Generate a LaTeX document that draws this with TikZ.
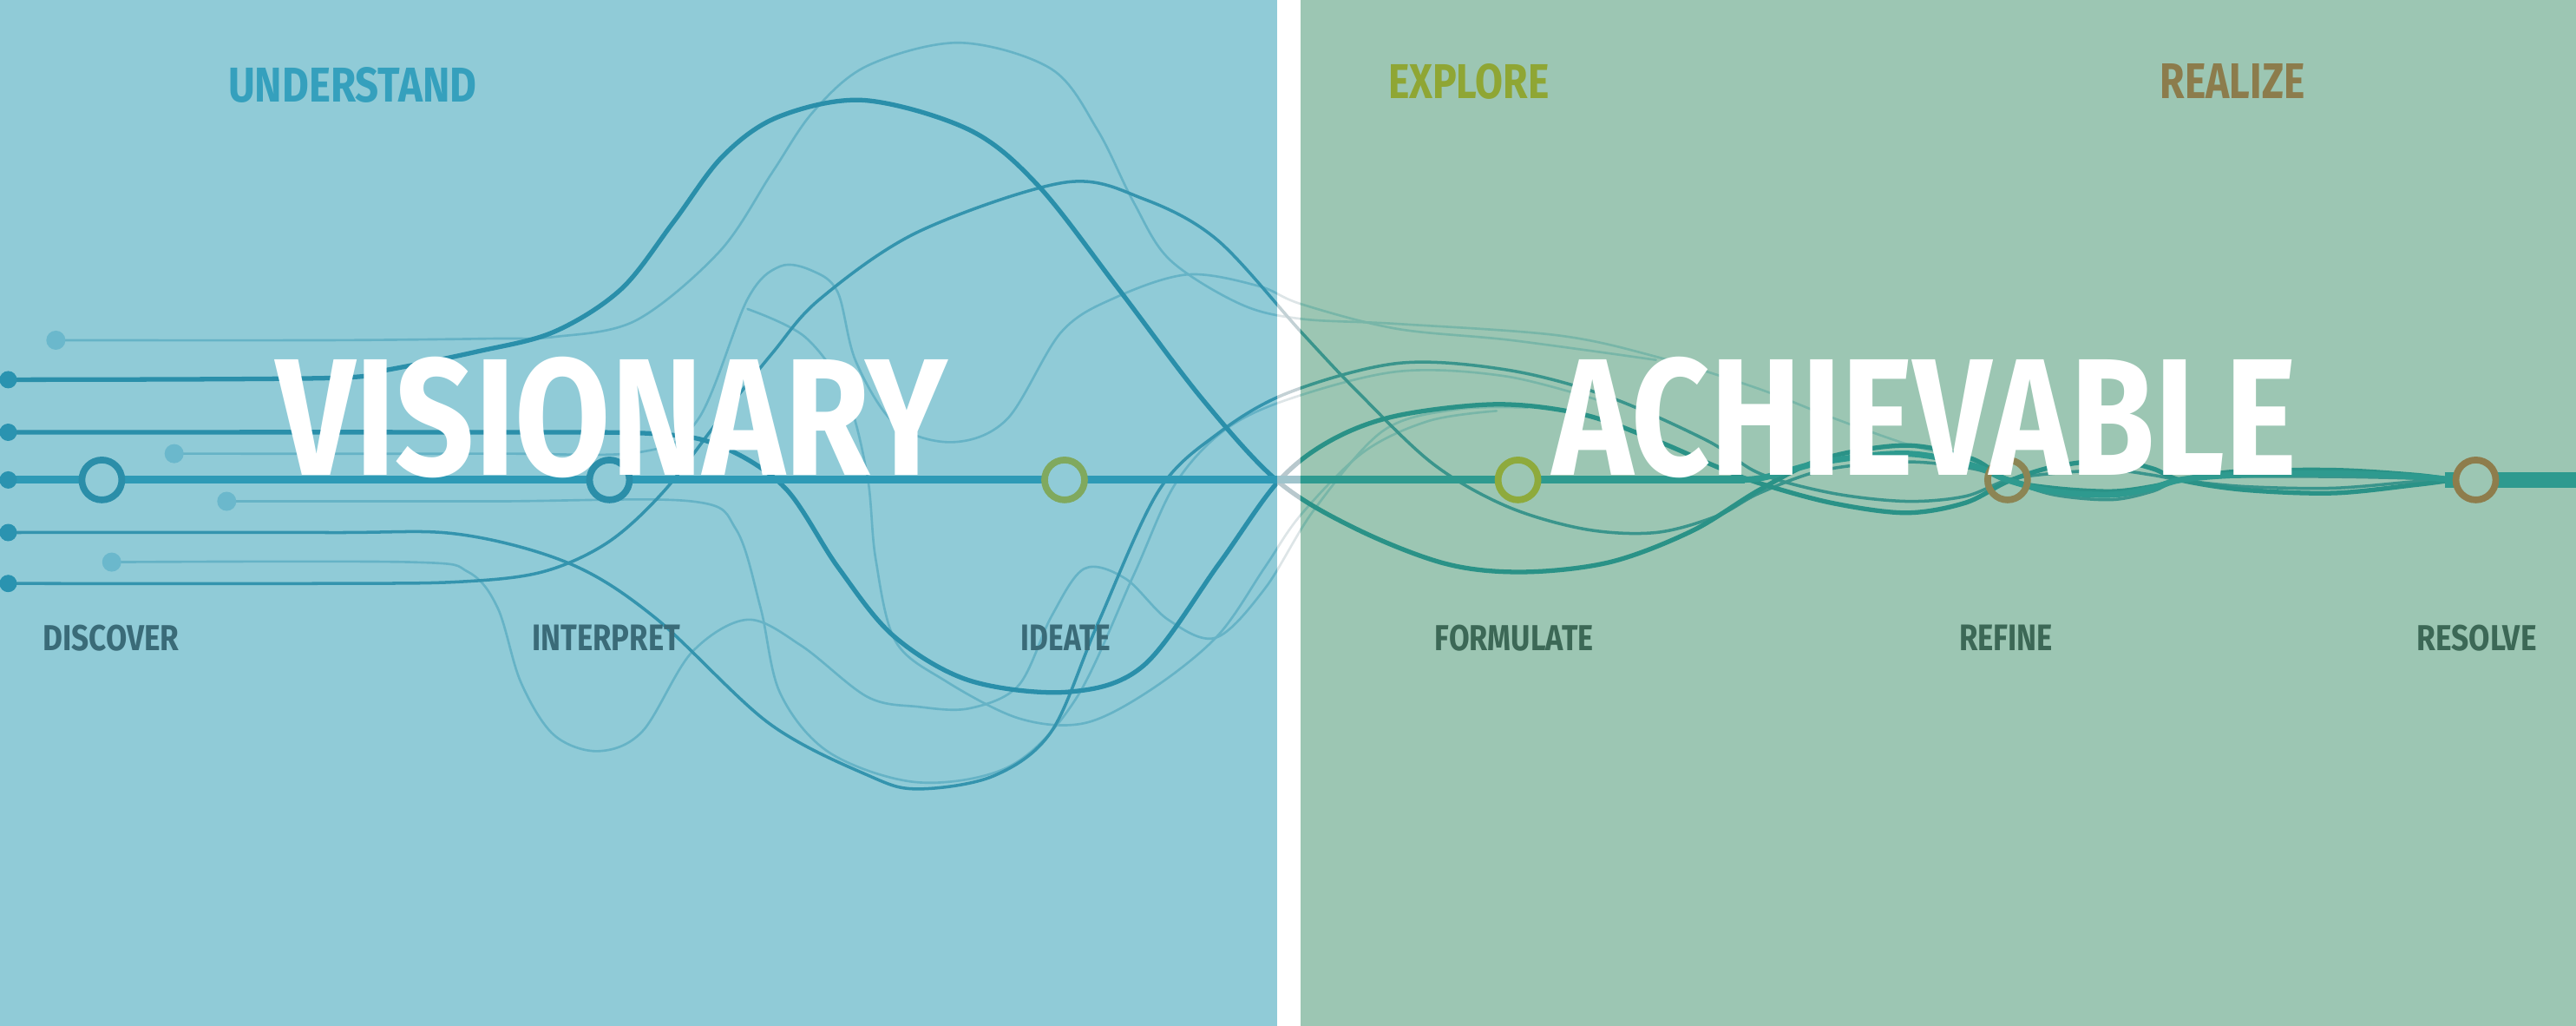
\documentclass[tikz,border=0pt]{standalone}
\usepackage{fontspec}
\setmainfont{Fira Sans}
\usepackage{graphicx}
\definecolor{panelblue}{HTML}{90CBD7}
\definecolor{panelgreen}{HTML}{9CC6B3}
\definecolor{undc}{HTML}{35A0BD}
\definecolor{expc}{HTML}{8FA634}
\definecolor{realc}{HTML}{8C7C4C}
\definecolor{lblblue}{HTML}{3A6B78}
\definecolor{lblgreen}{HTML}{3C6856}
\definecolor{ringblue}{HTML}{2B8EA9}
\definecolor{ringideate}{HTML}{80A95E}
\definecolor{ringform}{HTML}{8EAA3C}
\definecolor{ringrefine}{HTML}{8C8554}
\definecolor{ringresolve}{HTML}{8E7D4C}
\definecolor{dotc}{HTML}{2A93B0}
\definecolor{fdotc}{HTML}{6BB8CC}
\definecolor{lcthk}{HTML}{000000}
\definecolor{lcmed}{HTML}{000000}
\definecolor{lcfnt}{HTML}{000000}
\definecolor{lcmain}{HTML}{000000}

\newcommand\sizedtext[3]{\resizebox{#1}{#2}{\bfseries #3}}
\newcommand\setcurvecolors[4]{\definecolor{lcthk}{HTML}{#1}\definecolor{lcmed}{HTML}{#2}\definecolor{lcfnt}{HTML}{#3}\definecolor{lcmain}{HTML}{#4}}

\newcommand\allcurves{%
 % faint lines
 \draw[crvfnt] plot[smooth,tension=.55] coordinates {(34,207) (200,207) (300,206) (337,205) (387,195) (438,153) (470,105) (495,68) (528,40) (584,26) (640,42) (668,79) (690,123) (712,158) (755,185) (792,194) (850,197) (948,204) (1008,217) (1069,236) (1115,254) (1160,270) (1200,281) (1222,292) (1255,299) (1285,302) (1310,298) (1327,292) (1360,288) (1420,288) (1470,290) (1493,292)};
 \draw[crvfnt] plot[smooth,tension=.55] coordinates {(106,276) (300,276) (390,275) (425,255) (455,182) (475,162) (495,165) (510,178) (521,220) (545,258) (580,269) (613,255) (646,202) (679,181) (723,167) (766,174) (792,185) (850,200) (920,207) (1008,219)};
 \draw[crvfnt] plot[smooth,tension=.55] coordinates {(138,305) (300,305) (421,305) (448,322) (463,370) (475,422) (505,458) (559,476) (615,466) (655,425) (690,350) (715,295) (745,262) (784,243) (851,226) (917,229) (978,245)};
 \draw[crvfnt] plot[smooth,tension=.55] coordinates {(68,342) (250,342) (285,348) (303,370) (317,415) (337,447) (364,457) (391,445) (421,397) (455,377) (488,393) (528,424) (559,430) (590,431) (620,417) (640,375) (660,346) (685,352) (711,377) (740,388) (770,358) (800,310) (842,262) (887,249) (930,248)};
 \draw[crvfnt] plot[smooth,tension=.55] coordinates {(455,188) (490,205) (515,240) (528,290) (533,340) (545,390) (575,414) (620,437) (660,440) (700,420) (741,387) (770,345) (792,313) (830,275) (870,256) (911,250)};
 % medium lines
 \draw[crvmed] plot[smooth,tension=.55] coordinates {(5,324) (200,324) (279,325) (347,343) (399,376) (468,440) (529,472) (559,480) (605,472) (640,445) (668,380) (705,299) (741,264) (784,239) (851,221) (917,225) (978,241) (1039,268) (1071,288) (1115,300) (1160,305) (1196,302) (1222,292) (1250,288) (1285,286) (1310,289) (1327,292) (1366,296) (1420,297) (1470,293) (1493,292)};
 \draw[crvmed] plot[smooth,tension=.55] coordinates {(5,355) (200,355) (279,354) (330,348) (370,330) (404,299) (438,255) (470,215) (499,182) (559,141) (648,111) (696,121) (741,146) (792,202) (826,238) (872,282) (917,308) (965,322) (1008,324) (1045,314) (1071,300) (1110,286) (1160,281) (1200,285) (1222,292) (1250,301) (1285,304) (1310,299) (1327,292) (1360,290) (1420,290) (1470,291) (1493,292)};
 % thick lines
 \draw[crvthk] plot[smooth,tension=.55] coordinates {(5,231) (200,230) (236,225) (290,214) (337,202) (378,176) (410,135) (440,95) (474,71) (526,61) (590,79) (632,113) (681,176) (732,243) (778,293) (826,322) (880,343) (927,348) (980,342) (1030,323) (1071,298) (1110,279) (1160,271) (1200,279) (1222,292) (1250,297) (1285,299) (1310,296) (1327,292) (1360,287) (1420,286) (1470,289) (1493,292)};
 \draw[crvthk] plot[smooth,tension=.55] coordinates {(5,263) (300,263) (400,264) (440,272) (478,297) (510,345) (544,387) (590,414) (650,421) (696,405) (742,343) (778,293) (810,268) (850,253) (911,246) (963,252) (1008,268) (1045,284) (1071,294) (1115,306) (1160,312) (1196,306) (1222,293) (1250,284) (1285,280) (1310,285) (1327,292) (1366,298) (1420,300) (1470,295) (1493,292)};
 % main line
 \draw[crvmain] (5,292) -- (1062,292);
 \draw[crvbund] plot[smooth,tension=.55] coordinates {(1040,292) (1071,291) (1110,281) (1160,276) (1200,283) (1222,292) (1250,299) (1285,301) (1310,297) (1327,292) (1360,289) (1420,288) (1470,290) (1493,292)};
 \draw[crvband] (1488,292) -- (1568,292);
}

\begin{document}
\begin{tikzpicture}[x=0.018935cm,y=-0.018935cm,
  crvthk/.style={line width=1.5pt, draw=lcthk, line cap=round, line join=round},
  crvmed/.style={line width=1.0pt, draw=lcmed, line cap=round, line join=round},
  crvfnt/.style={line width=0.75pt, draw=lcfnt, line cap=round, line join=round},
  crvmain/.style={line width=2.6pt, draw=lcmain},
  crvbund/.style={line width=2pt, draw=lcmain, line join=round},
  crvband/.style={line width=5pt, draw=lcmain},
  ring/.style={circle, inner sep=0pt, minimum size=0.46cm, line width=2.2pt},
  sdot/.style={circle, inner sep=0pt, minimum size=0.2cm, fill=dotc},
  fdot/.style={circle, inner sep=0pt, minimum size=0.22cm, fill=fdotc},
  lbl/.style={inner sep=0pt, anchor=center}]
\useasboundingbox (0,0) rectangle (1568,624);
\fill[white] (0,0) rectangle (1568,624);
\fill[panelblue] (0,0) rectangle (777.5,624);
\fill[panelgreen] (791.5,0) rectangle (1568,624);

% curves, tinted per region
\begin{scope}
 \clip (0,0) rectangle (777.5,624);
 \setcurvecolors{2A8FAA}{3494AE}{66B3C6}{2E9AB6}
 \allcurves
\end{scope}
\begin{scope}
 \clip (777.5,0) rectangle (791.5,624);
 \setcurvecolors{B8C8CD}{C3D1D5}{DDE5E7}{9FC4CC}
 \allcurves
\end{scope}
\begin{scope}
 \clip (791.5,0) rectangle (1568,624);
 \setcurvecolors{2A9287}{3A958C}{78B6A8}{2E9A8F}
 \allcurves
\end{scope}

% start dots
\node[sdot] (d1) at (5,231) {};
\node[sdot] (d2) at (5,263) {};
\node[sdot] (d3) at (5,292) {};
\node[sdot] (d4) at (5,324) {};
\node[sdot] (d5) at (5,355) {};
\node[fdot] (f1) at (34,207) {};
\node[fdot] (f2) at (106,276) {};
\node[fdot] (f3) at (138,305) {};
\node[fdot] (f4) at (68,342) {};

% stage rings
\node[ring, draw=ringblue, fill=panelblue] (rDisc) at (62,292) {};
\node[ring, draw=ringblue, fill=panelblue] (rInt) at (371,292) {};
\node[ring, draw=ringideate, fill=panelblue] (rIde) at (648,292) {};
\node[ring, draw=ringform, fill=panelgreen] (rForm) at (924,292) {};
\node[ring, draw=ringrefine] (rRef) at (1222,292) {};
\node[ring, draw=ringresolve, fill=panelgreen] (rRes) at (1507,292) {};

% headings
\node[lbl, text=undc] (tUnd) at (214.5,51.5) {\sizedtext{2.86cm}{0.40cm}{UNDERSTAND}};
\node[lbl, text=expc] (tExp) at (894,49.5) {\sizedtext{1.856cm}{0.40cm}{EXPLORE}};
\node[lbl, text=realc] (tReal) at (1359,49.5) {\sizedtext{1.666cm}{0.40cm}{REALIZE}};

% big words
\node[lbl, text=white] (tVis) at (372.5,254) {\sizedtext{7.744cm}{1.363cm}{VISIONARY}};
\node[lbl, text=white] (tAch) at (1171.5,254) {\sizedtext{8.578cm}{1.363cm}{ACHIEVABLE}};

% stage labels
\node[lbl, text=lblblue] (lDisc) at (67.5,388) {\sizedtext{1.572cm}{0.295cm}{DISCOVER}};
\node[lbl, text=lblblue] (lInt) at (369,388) {\sizedtext{1.704cm}{0.295cm}{INTERPRET}};
\node[lbl, text=lblblue] (lIde) at (648.75,388) {\sizedtext{1.032cm}{0.295cm}{IDEATE}};
\node[lbl, text=lblgreen] (lForm) at (921.75,388) {\sizedtext{1.827cm}{0.295cm}{FORMULATE}};
\node[lbl, text=lblgreen] (lRef) at (1221,388) {\sizedtext{1.079cm}{0.295cm}{REFINE}};
\node[lbl, text=lblgreen] (lRes) at (1507.5,388) {\sizedtext{1.382cm}{0.295cm}{RESOLVE}};
\end{tikzpicture}
\end{document}
